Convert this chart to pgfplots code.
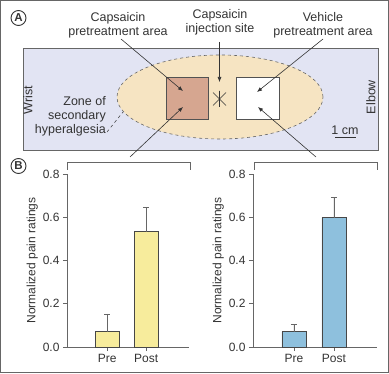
\documentclass[border=0pt]{standalone}
\usepackage{fontspec}
\setmainfont{Liberation Sans}
\usepackage{pgfplots}
\pgfplotsset{compat=1.18}
\usetikzlibrary{arrows.meta}
\definecolor{txt}{HTML}{333333}
\definecolor{frame}{HTML}{666666}
\definecolor{lav}{HTML}{E2E4F3}
\definecolor{wheat}{HTML}{F6E4C2}
\definecolor{redsq}{HTML}{D6A690}
\definecolor{ybar}{HTML}{F7EC9C}
\definecolor{bbar}{HTML}{8EC0DD}
\pgfplotsset{
  painaxis/.style={
    scale only axis, height=173pt,
    ymin=0, ymax=0.8,
    ytick={0,0.2,0.4,0.6,0.8},
    yticklabel style={/pgf/number format/.cd,fixed,fixed zerofill,precision=1},
    xtick={1,2}, xticklabels={Pre,Post},
    axis x line*=bottom, axis y line*=left,
    axis line style={frame, line width=0.8pt},
    tick style={frame, line width=0.6pt},
    tick align=outside, major tick length=4pt,
    ticklabel style={font=\fontsize{12}{14}\selectfont, text=txt},
    /pgf/number format/assume math mode=true,
    ylabel={Normalized pain ratings},
    ylabel style={font=\fontsize{12}{14}\selectfont, text=txt, yshift=-2pt},
    ybar, bar width=24pt,
    error bars/y dir=plus, error bars/y explicit,
    error bars/error bar style={frame, line width=0.6pt},
    error bars/error mark options={rotate=90, mark size=3pt, frame, line width=0.6pt},
    clip=false,
  }
}
\begin{document}
\begin{tikzpicture}[x=1pt,y=1pt, font=\fontsize{12.5}{14}\selectfont, text=txt]
% outer frame
\draw[frame, line width=1.2pt] (0.6,0.6) rectangle (388.4,372.4);
% panel A
\fill[lav] (23,223) rectangle (378,325);
\draw[frame, line width=0.8pt] (23,223) rectangle (378,325);
\draw[fill=wheat, draw=frame, dashed, line width=0.6pt] (220,276) ellipse (103pt and 42pt);
\draw[fill=redsq, draw=frame!80!black, line width=0.8pt] (166,254) rectangle (208,296);
\draw[fill=white, draw=frame!80!black, line width=0.8pt] (236,254) rectangle (279,296);
% asterisk
\draw[txt, line width=0.6pt] (219.5,266) -- (219.5,282)
  (213,267.5) -- (226,280.5) (213,280.5) -- (226,267.5);
% labels
\node[align=center, inner sep=0pt] at (118,348) {Capsaicin\\pretreatment area};
\node[align=center, inner sep=0pt] at (220,351) {Capsaicin\\injection site};
\node[align=center, inner sep=0pt] at (323,348) {Vehicle\\pretreatment area};
\node[rotate=90, inner sep=0pt] at (28,273) {Wrist};
\node[rotate=90, inner sep=0pt] at (371,276) {Elbow};
\node[align=right, anchor=east, inner sep=0pt] at (106,257) {Zone of\\secondary\\hyperalgesia};
\node[inner sep=0pt] at (345,243) {1 cm};
\draw[txt, line width=0.6pt] (335,236) -- (356,236);
\draw[txt, dashed, line width=0.5pt] (107,241) -- (123,261);
% arrows
\begin{scope}[txt, line width=0.6pt, -{Latex[length=5pt,width=4pt]}]
\draw (219.5,331) -- (219.5,291);
\draw (121,334) -- (183,282);
\draw (323,334) -- (257,281);
\draw (130,216) -- (183,266);
\draw (316,216) -- (258,266);
\end{scope}
% panel letters
\draw[txt, line width=0.9pt] (18.5,355) circle (7.5pt);
\node[font=\fontsize{11.5}{13}\selectfont\bfseries] at (18.5,355) {A};
\draw[txt, line width=0.9pt] (18.5,207) circle (7.5pt);
\node[font=\fontsize{11.5}{13}\selectfont\bfseries] at (18.5,207) {B};
% brackets
\draw[frame, line width=0.7pt] (67,203) -- (67,211) -- (190,211) -- (190,203);
\draw[frame, line width=0.7pt] (254,203) -- (254,211) -- (377,211) -- (377,203);
% left chart
\begin{axis}[painaxis, at={(67pt,26pt)}, anchor=south west, width=122pt,
  xmin=-0.03, xmax=3.1]
\addplot[fill=ybar, draw=frame!70!black, line width=0.7pt] coordinates {(1,0.071) +- (0,0.082) (2,0.533) +- (0,0.111)};
\end{axis}
% right chart
\begin{axis}[painaxis, at={(253pt,26pt)}, anchor=south west, width=124pt,
  xmin=-0.025, xmax=3.075]
\addplot[fill=bbar, draw=frame!70!black, line width=0.7pt] coordinates {(1,0.071) +- (0,0.034) (2,0.598) +- (0,0.094)};
\end{axis}
\end{tikzpicture}
\end{document}
